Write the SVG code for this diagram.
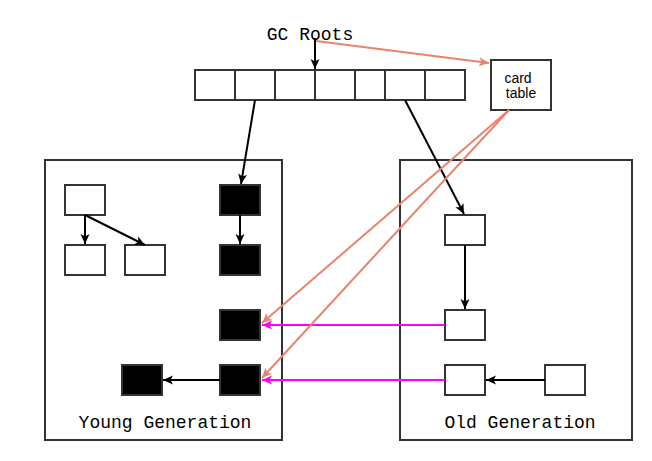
<svg xmlns="http://www.w3.org/2000/svg" width="652" height="461" viewBox="0 0 652 461">
<style>
.box{fill:#fff;stroke:#333;stroke-width:2}
.blk{fill:#000;stroke:#333;stroke-width:2}
.mono{font-family:"Liberation Mono","Courier New",monospace;font-size:18px;fill:#000;text-anchor:middle}
.sans{font-family:"Liberation Sans",Arial,sans-serif;font-size:14px;fill:#000;text-anchor:middle}
.ab{fill:none;stroke:#000;stroke-width:2;marker-end:url(#mb)}
.ar{fill:none;stroke:#E8836D;stroke-width:2;marker-end:url(#mr)}
.am{fill:none;stroke:#FF00FF;stroke-width:2;marker-end:url(#mm)}
</style>
<defs>
<marker id="mb" viewBox="0 0 10 10" refX="10" refY="5" markerWidth="10" markerHeight="10" markerUnits="userSpaceOnUse" orient="auto"><path d="M0,0.5 L10,5 L0,9.5 L2.5,5 Z" fill="#000"/></marker>
<marker id="mr" viewBox="0 0 10 10" refX="10" refY="5" markerWidth="10" markerHeight="10" markerUnits="userSpaceOnUse" orient="auto"><path d="M0,0.5 L10,5 L0,9.5 L2.5,5 Z" fill="#E8836D"/></marker>
<marker id="mm" viewBox="0 0 10 10" refX="10" refY="5" markerWidth="10" markerHeight="10" markerUnits="userSpaceOnUse" orient="auto"><path d="M0,0.5 L10,5 L0,9.5 L2.5,5 Z" fill="#FF00FF"/></marker>
</defs>
<rect width="652" height="461" fill="#fff"/>
<g id="young-gen"><rect class="box" x="45" y="160" width="237" height="280"/><text class="mono" x="165" y="428">Young Generation</text></g>
<g id="old-gen"><rect class="box" x="400" y="160" width="232" height="280"/><text class="mono" x="520" y="428">Old Generation</text></g>
<g id="gc-roots"><text class="mono" x="310" y="40">GC Roots</text></g>
<g id="root-array">
<rect class="box" x="195" y="70" width="270" height="30"/>
<path d="M235,70V100M275,70V100M315,70V100M355,70V100M385,70V100M425,70V100" stroke="#333" stroke-width="2" fill="none"/>
</g>
<g id="card-table"><rect class="box" x="491" y="60" width="60" height="50"/><text class="sans" x="518" y="83">card</text><text class="sans" x="521" y="98">table</text></g>
<g id="y1"><rect class="box" x="65" y="185" width="40" height="30"/></g>
<g id="y2"><rect class="box" x="65" y="245" width="40" height="30"/></g>
<g id="y3"><rect class="box" x="125" y="245" width="40" height="30"/></g>
<g id="y4"><rect class="blk" x="220" y="185" width="40" height="30"/></g>
<g id="y5"><rect class="blk" x="220" y="245" width="40" height="30"/></g>
<g id="y6"><rect class="blk" x="220" y="310" width="40" height="30"/></g>
<g id="y7"><rect class="blk" x="220" y="365" width="40" height="30"/></g>
<g id="y8"><rect class="blk" x="122" y="365" width="40" height="30"/></g>
<g id="o1"><rect class="box" x="445" y="215" width="40" height="30"/></g>
<g id="o2"><rect class="box" x="445" y="310" width="40" height="30"/></g>
<g id="o3"><rect class="box" x="445" y="365" width="40" height="30"/></g>
<g id="o4"><rect class="box" x="545" y="365" width="40" height="30"/></g>
<g id="connectors">
<path class="ab" d="M315,38V69"/>
<path class="ar" d="M316,41L489,63"/>
<path class="ab" d="M255,100L241,184"/>
<path class="ab" d="M405,100L464,214"/>
<path class="ab" d="M85,215V244"/>
<path class="ab" d="M85,215L145,245"/>
<path class="ab" d="M240,215V244"/>
<path class="ab" d="M220,380H163"/>
<path class="ab" d="M465,245V309"/>
<path class="ab" d="M545,380H486"/>
<path class="am" d="M445,325H262"/>
<path class="am" d="M445,380H262"/>
<path class="ar" d="M509,110L262,323"/>
<path class="ar" d="M509,110L262,378"/>
</g>
</svg>
